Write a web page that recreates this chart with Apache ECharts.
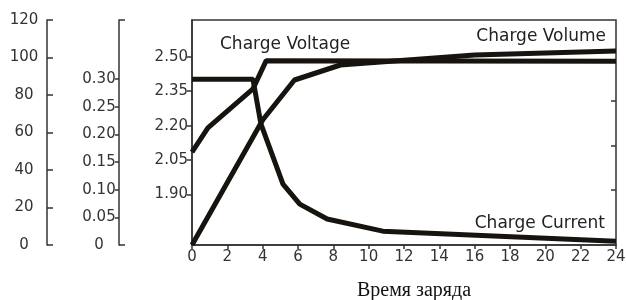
<!DOCTYPE html>
<html>
<head>
    <meta charset="UTF-8">
    <title>charge</title>
    <script src="https://cdn.jsdelivr.net/npm/echarts@6/dist/echarts.min.js"></script>
    <style>
        *{margin:0;padding:0}
        html,body{width:100%;height:100%;background:#fff}
        #main{width:626px;height:300px}
    </style>
</head>
<body>
    <div id="main"></div>
    <script type="text/javascript">
        // данные
        var volumeHours = [0, 4.0, 5.8, 8.4, 16, 24];
        var volumeValues = [0, 66.7, 88, 96, 101.3, 103.5];          // %
        var voltageHours = [0, 0.9, 3.45, 4.2, 24];
        var voltageValues = [2.085, 2.19, 2.36, 2.483, 2.48];        // V
        var currentHours = [0, 3.45, 3.9, 5.15, 6.1, 7.65, 10.8, 24];
        var currentValues = [0.30, 0.30, 0.219, 0.110, 0.074, 0.047, 0.025, 0.007]; // A

        var voltageTicks = [1.90, 2.05, 2.20, 2.35, 2.50];
        var currentTicks = [0, 0.05, 0.10, 0.15, 0.20, 0.25, 0.30];
        var frameTicks = [29.3, 53, 76.8];   // засечки на правой рамке

        function pairs(xs, ys) {
            return xs.map(function (x, i) { return [x, ys[i]]; });
        }

        var axisColor = '#333';
        var lineColor = '#17130f';
        var labelFont = {fontFamily: 'DejaVu Sans', fontSize: 15, color: '#333'};

        var myChart = echarts.init(document.getElementById('main'));
        var option = {
            animation: false,
            grid: {
                left: 192, right: 10, top: 20, bottom: 55,
                outerBoundsMode: 'none',
                show: true,
                borderColor: axisColor,
                borderWidth: 1.5
            },
            xAxis: {
                type: 'value',
                min: 0, max: 24, interval: 2,
                name: 'Время заряда',
                nameLocation: 'middle',
                nameGap: 36,
                nameTextStyle: {fontFamily: 'Liberation Serif', fontSize: 20, color: '#111', padding: [0, 0, 0, 20]},
                axisLine: {lineStyle: {color: axisColor, width: 1.5}},
                axisTick: {length: 4, lineStyle: {color: axisColor, width: 1.5}},
                axisLabel: Object.assign({margin: 5}, labelFont),
                splitLine: {show: false}
            },
            yAxis: [
                {   // напряжение
                    type: 'value', position: 'left', offset: 0,
                    min: 1.68, max: 2.66,
                    axisLine: {show: true, lineStyle: {color: axisColor, width: 1.5}},
                    axisTick: {show: true, length: 5, customValues: voltageTicks, lineStyle: {color: axisColor, width: 1.5}},
                    axisLabel: Object.assign({margin: 4, customValues: voltageTicks,
                        formatter: function (v) { return v.toFixed(2); }}, labelFont),
                    splitLine: {show: false}
                },
                {   // ток
                    type: 'value', position: 'left', offset: 73,
                    min: 0, max: 0.407,
                    axisLine: {show: true, lineStyle: {color: axisColor, width: 1.5}},
                    axisTick: {show: true, length: 4, customValues: currentTicks.slice(1), lineStyle: {color: axisColor, width: 1.5}},
                    axisLabel: Object.assign({margin: 20, align: 'center', customValues: currentTicks,
                        formatter: function (v) { return v === 0 ? '0' : v.toFixed(2); }}, labelFont),
                    splitLine: {show: false}
                },
                {   // скобки оси тока
                    type: 'value', position: 'left', offset: 73,
                    min: 0, max: 0.407,
                    axisLine: {show: false},
                    axisTick: {show: true, inside: true, length: 6, customValues: [0, 0.407], lineStyle: {color: axisColor, width: 1.5}},
                    axisLabel: {show: false},
                    splitLine: {show: false}
                },
                {   // ёмкость, %
                    type: 'value', position: 'left', offset: 145,
                    min: 0, max: 120, interval: 20,
                    axisLine: {show: true, lineStyle: {color: axisColor, width: 1.5}},
                    axisTick: {show: true, inside: true, length: 6, lineStyle: {color: axisColor, width: 1.5}},
                    axisLabel: Object.assign({margin: 23, align: 'center'}, labelFont),
                    splitLine: {show: false}
                },
                {   // правая рамка
                    type: 'value', position: 'right',
                    min: 0, max: 120,
                    axisLine: {show: false},
                    axisTick: {show: true, inside: true, length: 5, customValues: frameTicks, lineStyle: {color: axisColor, width: 1.5}},
                    axisLabel: {show: false},
                    splitLine: {show: false}
                }
            ],
            series: [
                {
                    name: 'Charge Volume', type: 'line', yAxisIndex: 3,
                    data: pairs(volumeHours, volumeValues),
                    symbol: 'none',
                    lineStyle: {color: lineColor, width: 5}
                },
                {
                    name: 'Charge Voltage', type: 'line', yAxisIndex: 0,
                    data: pairs(voltageHours, voltageValues),
                    symbol: 'none',
                    lineStyle: {color: lineColor, width: 5}
                },
                {
                    name: 'Charge Current', type: 'line', yAxisIndex: 1,
                    data: pairs(currentHours, currentValues),
                    symbol: 'none',
                    lineStyle: {color: lineColor, width: 5}
                }
            ],
            graphic: [
                {type: 'text', x: 220, y: 45, style: {text: 'Charge Voltage', align: 'left', verticalAlign: 'middle',
                    font: '17px "DejaVu Sans"', fill: '#222'}},
                {type: 'text', x: 606, y: 37, style: {text: 'Charge Volume', align: 'right', verticalAlign: 'middle',
                    font: '17px "DejaVu Sans"', fill: '#222'}},
                {type: 'text', x: 605, y: 224, style: {text: 'Charge Current', align: 'right', verticalAlign: 'middle',
                    font: '17px "DejaVu Sans"', fill: '#222'}}
            ]
        };
        myChart.setOption(option);
    </script>
</body>
</html>
